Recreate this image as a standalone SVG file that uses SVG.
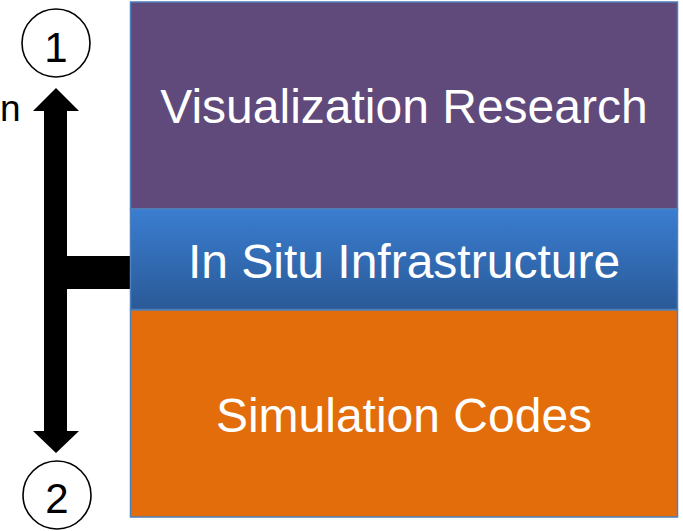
<svg xmlns="http://www.w3.org/2000/svg" width="683" height="531" viewBox="0 0 683 531">
  <defs>
    <linearGradient id="infraFill" x1="0" y1="0" x2="0" y2="1">
      <stop offset="0" stop-color="#3a7dd1"/>
      <stop offset="1" stop-color="#2a5a97"/>
    </linearGradient>
    <style>
      .layer { stroke: #4f7fba; stroke-width: 1.5; }
      .label { font-family: "Liberation Sans", Arial, sans-serif; font-size: 48px; fill: #ffffff; text-anchor: middle; }
      .badge { fill: #ffffff; stroke: #000000; stroke-width: 1.6; }
      .badge-text { font-family: "Liberation Sans", Arial, sans-serif; font-size: 42px; fill: #000000; text-anchor: middle; }
      .arrow { fill: #000000; }
    </style>
  </defs>

  <rect width="683" height="531" fill="#ffffff"/>

  <!-- partial side label -->
  <text x="0" y="121" font-family="Liberation Sans, Arial, sans-serif" font-size="37" fill="#000000">n</text>

  <!-- connectors: double-headed vertical arrow with a branch to the infrastructure layer -->
  <g id="connectors">
    <polygon class="arrow" points="56,88 79,111 67,111 67,431 79,431 56,453 33,431 44,431 44,111 33,111"/>
    <rect class="arrow" x="44" y="256" width="87" height="33"/>
  </g>

  <g id="node-visualization-research">
    <rect class="layer" x="130.5" y="2" width="547" height="207" fill="#604a7b"/>
    <text class="label" x="404" y="123">Visualization Research</text>
  </g>

  <g id="node-in-situ-infrastructure">
    <rect class="layer" x="130.5" y="209" width="547" height="100.5" fill="url(#infraFill)"/>
    <text class="label" x="404" y="278">In Situ Infrastructure</text>
  </g>

  <g id="node-simulation-codes">
    <rect class="layer" x="130.5" y="310" width="547" height="207" fill="#e36c0b"/>
    <text class="label" x="404" y="432">Simulation Codes</text>
  </g>

  <g id="node-marker-1">
    <circle class="badge" cx="56" cy="43" r="34"/>
    <text class="badge-text" x="56" y="62">1</text>
  </g>

  <g id="node-marker-2">
    <circle class="badge" cx="57" cy="495" r="34"/>
    <text class="badge-text" x="57" y="513">2</text>
  </g>
</svg>
